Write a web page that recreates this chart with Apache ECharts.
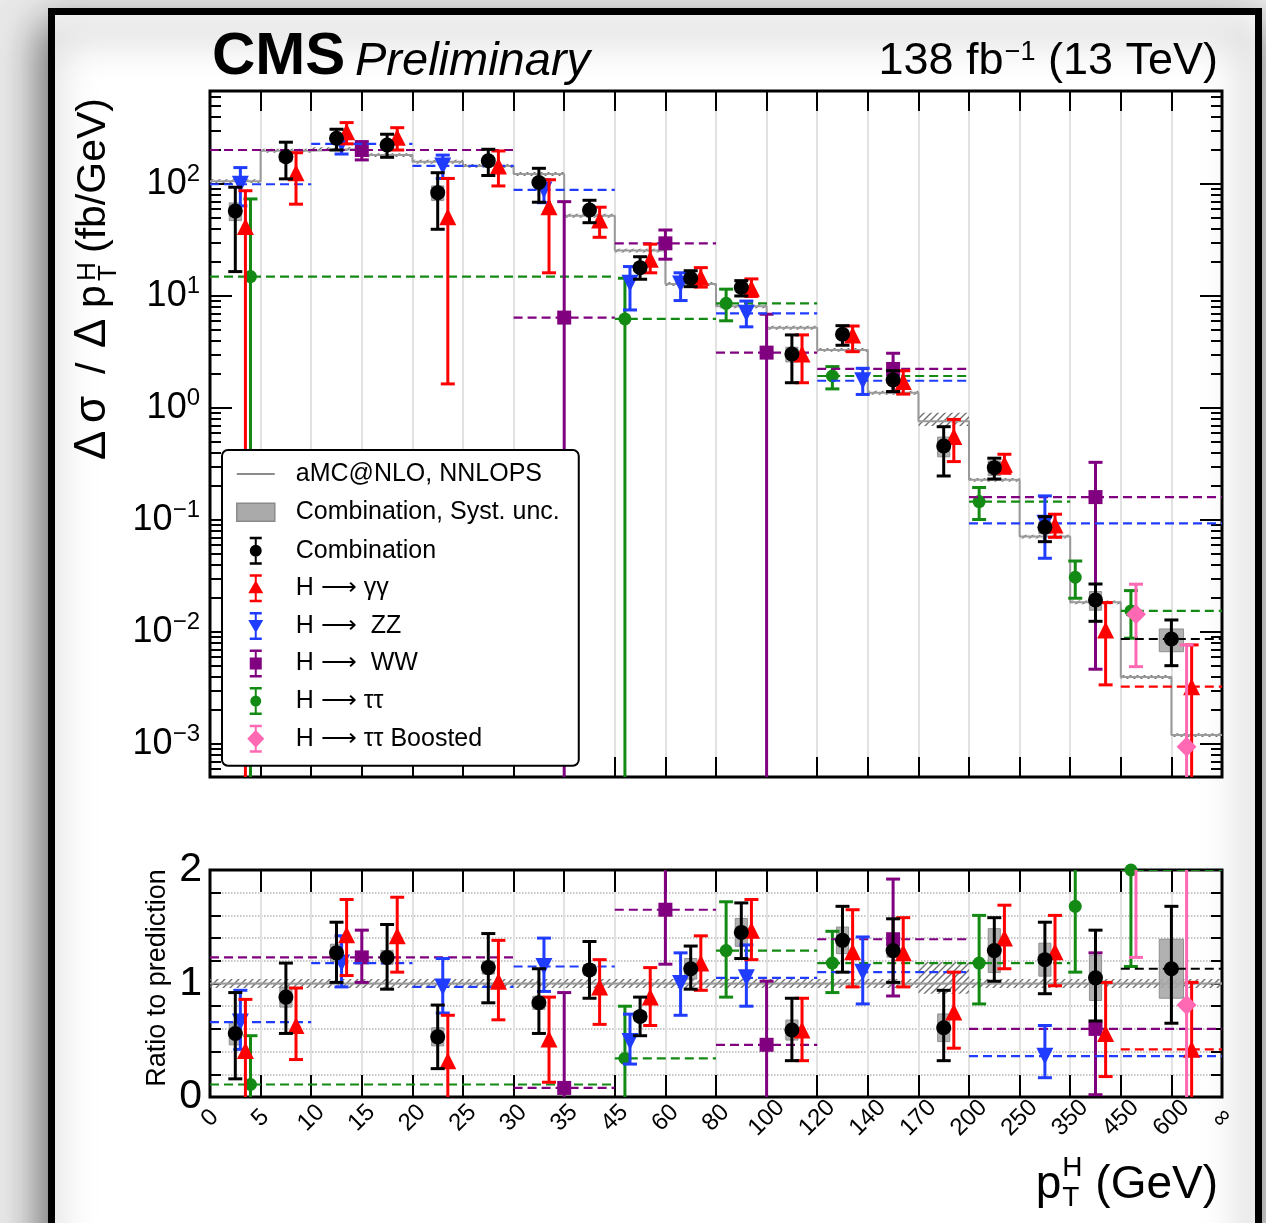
<!DOCTYPE html>
<html><head><meta charset="utf-8">
<script src="https://cdn.jsdelivr.net/npm/echarts@6/dist/echarts.min.js"></script>
<style>html,body{margin:0;padding:0;background:#e9e9e9;}#c{width:1266px;height:1223px;}</style>
</head><body><div id="c"></div>
<script>
// ---------------- DATA ----------------
const edgeLabels = ['0','5','10','15','20','25','30','35','45','60','80','100','120','140','170','200','250','350','450','600','∞'];
const topMajorTicks = [-3,-2,-1,0,1,2];           // log10 of 1e-3 ... 1e2
const ratioLabelTicks = [0,1,2];

// aMC@NLO NNLOPS prediction (fb/GeV) per bin
const predValues = [106,198,205,181,158,145,123,52,25.4,12.8,8.1,5.2,3.3,1.37,0.76,0.228,0.071,0.0184,0.00396,0.0012];
const predUncUp   = [0.04,0.04,0.04,0.04,0.04,0.04,0.04,0.04,0.04,0.04,0.04,0.04,0.04,0.04,0.19,0.04,0.04,0.04,0.04,0.04];
const predUncDown = [0.04,0.04,0.04,0.04,0.04,0.04,0.04,0.04,0.04,0.04,0.04,0.04,0.04,0.04,0.09,0.04,0.04,0.04,0.04,0.04];

// Combination
const combBins = [[0,1],[1,2],[2,3],[3,4],[4,5],[5,6],[6,7],[7,8],[8,9],[9,10],[10,11],[11,12],[12,13],[13,14],[14,15],[15,16],[16,17],[17,18],[18,20]];
const combVal  = [57.4,175,256,223,83.6,161,103,58.6,17.9,14.4,11.9,3.03,4.55,1.78,0.458,0.293,0.0861,0.0193,0.00865];
const combUp   = [93.5,236,308,278,126,204,138,71.5,22.4,16.8,13.7,4.49,5.43,2.15,0.68,0.356,0.107,0.0268,0.0128];
const combDown = [16.5,111,201,173,39.4,119,68.7,45.1,14.1,12.1,10.0,1.68,3.63,1.40,0.247,0.232,0.064,0.01245,0.0050];
const combSyst = [0.18,0.10,0.06,0.05,0.15,0.05,0.07,0.04,0.06,0.08,0.085,0.15,0.085,0.045,0.2,0.15,0.12,0.19,0.23];
const combRatio     = [0.56,0.88,1.27,1.23,0.53,1.14,0.83,1.12,0.71,1.13,1.45,0.59,1.38,1.29,0.61,1.29,1.21,1.05,1.13];
const combRatioUp   = [0.92,1.18,1.54,1.52,0.81,1.44,1.13,1.37,0.88,1.33,1.71,0.87,1.68,1.57,0.94,1.58,1.54,1.47,1.68];
const combRatioDown = [0.16,0.56,1.01,0.95,0.25,0.83,0.56,0.87,0.54,0.95,1.22,0.32,1.10,1.01,0.32,1.02,0.91,0.67,0.65];

// H -> gamma gamma
const ggBins = combBins;
const ggVal  = [41.6,126,293,261,51,145,62.6,47.7,21.3,14.7,11.7,3.03,4.49,1.72,0.555,0.314,0.0902,0.0104,0.00325];
const ggUp   = [87,190,353,318,112,197,109,62,29,17.9,14.2,4.49,5.39,2.15,0.79,0.386,0.1125,0.0183,0.00766];
const ggDown = [0.0001,66,228,201,1.64,96,16.1,33.4,16.1,12.0,9.9,1.68,3.18,1.33,0.332,0.261,0.070,0.00337,0.0001];
const ggRatio     = [0.41,0.63,1.43,1.42,0.32,1.02,0.51,0.97,0.88,1.18,1.47,0.59,1.28,1.27,0.75,1.40,1.28,0.56,0.42];
const ggRatioUp   = [0.86,0.96,1.74,1.76,0.72,1.38,0.88,1.21,1.14,1.42,1.74,0.87,1.65,1.58,1.10,1.69,1.60,1.01,1.01];
const ggRatioDown = [-0.5,0.33,1.07,1.10,-0.5,0.68,0.13,0.64,0.63,0.94,1.21,0.32,0.97,0.97,0.43,1.13,0.98,0.18,-0.5];

// H -> ZZ
const zzBins = [[0,2],[2,4],[4,6],[6,8],[8,9],[9,10],[10,12],[12,15],[15,20]];
const zzVal  = [99.4,228,145,88.4,13.0,12.8,7.0,1.75,0.0933];
const zzUp   = [140,261,181,109,18.3,16.1,9.0,2.26,0.164];
const zzDown = [63.7,185,112,68,7.5,9.1,5.3,1.32,0.0455];
const zzRatio     = [0.66,1.18,0.97,1.15,0.49,1.0,1.05,1.10,0.36];
const zzRatioUp   = [0.94,1.42,1.22,1.40,0.73,1.27,1.34,1.41,0.63];
const zzRatioDown = [0.42,0.97,0.74,0.93,0.29,0.72,0.80,0.82,0.17];

// H -> WW
const wwBins = [[0,6],[6,8],[8,10],[10,12],[12,15],[15,20]];
const wwVal  = [201,6.41,29.5,3.12,2.23,0.16];
const wwUp   = [239,69.5,38.8,6.87,3.08,0.327];
const wwDown = [164,0.0001,21.3,0.0001,1.40,0.00465];
const wwRatio     = [1.23,0.08,1.65,0.46,1.39,0.60];
const wwRatioUp   = [1.47,0.92,2.3,1.02,1.92,1.27];
const wwRatioDown = [1.01,-0.5,1.17,-0.5,0.89,0.02];

// H -> tau tau
const ttBins = [[0,8],[8,10],[10,12],[12,15],[15,17],[17,18],[18,20]];
const ttVal  = [14.9,6.24,8.6,1.93,0.146,0.0308,0.0154];
const ttUp   = [73.5,14.4,11.5,2.34,0.195,0.043,0.0234];
const ttDown = [0.0001,0.0001,6.0,1.48,0.101,0.020,0.0088];
const ttRatio     = [0.11,0.34,1.29,1.18,1.18,1.68,2.0];
const ttRatioUp   = [0.54,0.80,1.72,1.46,1.60,2.3,3.0];
const ttRatioDown = [-0.5,-0.5,0.88,0.92,0.82,1.10,1.15];

// H -> tau tau boosted
const bsBins = [[18,19],[19,20]];
const bsVal  = [0.0144,0.000946];
const bsUp   = [0.0267,0.00766];
const bsDown = [0.0049,0.0001];
const bsRatio     = [3.6,0.81];
const bsRatioUp   = [6.7,6.4];
const bsRatioDown = [1.23,-0.5];

// ---------------- STYLE / LAYOUT ----------------
const FF = '"Liberation Sans", Arial, Helvetica, sans-serif';
const TOP = {left:210, top:91, width:1012, height:686, ymin:-3.295, ymax:2.83};
const RAT = {left:210, top:870, width:1012, height:227};

const mctx = document.createElement('canvas').getContext('2d');
function tw(t, font){ mctx.font = font; return mctx.measureText(t).width; }

const minorTop = [];
for (let n = -4; n <= 2; n++) for (let k = 2; k <= 9; k++) {
  const v = n + Math.log10(k);
  if (v > TOP.ymin && v < TOP.ymax) minorTop.push(v);
}

// hatch pattern
const hc = document.createElement('canvas'); hc.width = 7; hc.height = 7;
(function(){ const g = hc.getContext('2d'); g.strokeStyle = '#707070'; g.lineWidth = 1.4;
  g.beginPath(); g.moveTo(-1,8); g.lineTo(8,-1); g.moveTo(-2,2); g.lineTo(2,-2); g.moveTo(5,9); g.lineTo(9,5); g.stroke(); })();
const hatchFill = {image: hc, repeat: 'repeat'};

const channels = [
  {name:'H ⟶ ττ',         color:'#138a13', off:0.1, symbol:'circle',   size:13, rot:0,   bins:ttBins, v:ttVal, u:ttUp, d:ttDown, r:ttRatio, ru:ttRatioUp, rd:ttRatioDown},
  {name:'H ⟶  WW',        color:'#800080', off:0.5, symbol:'rect',     size:14, rot:0,   bins:wwBins, v:wwVal, u:wwUp, d:wwDown, r:wwRatio, ru:wwRatioUp, rd:wwRatioDown},
  {name:'H ⟶  ZZ',        color:'#1f3cff', off:0.3, symbol:'triangle', size:17, rot:180, bins:zzBins, v:zzVal, u:zzUp, d:zzDown, r:zzRatio, ru:zzRatioUp, rd:zzRatioDown},
  {name:'H ⟶ γγ',         color:'#ff0000', off:0.7, symbol:'triangle', size:17, rot:0,   bins:ggBins, v:ggVal, u:ggUp, d:ggDown, r:ggRatio, ru:ggRatioUp, rd:ggRatioDown},
  {name:'H ⟶ ττ Boosted', color:'#ff69b4', off:0.3, symbol:'diamond',  size:20, rot:0,   bins:bsBins, v:bsVal, u:bsUp, d:bsDown, r:bsRatio, ru:bsRatioUp, rd:bsRatioDown},
  {name:'Combination',    color:'#000000', off:0.5, symbol:'circle',   size:15, rot:0,   bins:combBins, v:combVal, u:combUp, d:combDown, r:combRatio, ru:combRatioUp, rd:combRatioDown}
];

function errRenderer(color){
  return function(params, api){
    const x = api.value(0), y = api.value(1), yu = api.value(2), yd = api.value(3), lo = api.value(4), hi = api.value(5);
    const c = api.coord([x, y]), u = api.coord([x, yu]), d = api.coord([x, yd]);
    const ch = [];
    if (hi - lo > 1.01) {
      const a = api.coord([lo, y]), b = api.coord([hi, y]);
      ch.push({type:'line', shape:{x1:a[0], y1:a[1], x2:b[0], y2:b[1]}, style:{stroke:color, lineWidth:2.2, lineDash:[9,5]}});
    }
    ch.push({type:'line', shape:{x1:c[0], y1:u[1], x2:c[0], y2:d[1]}, style:{stroke:color, lineWidth:3}});
    ch.push({type:'line', shape:{x1:c[0]-7, y1:u[1], x2:c[0]+7, y2:u[1]}, style:{stroke:color, lineWidth:3}});
    ch.push({type:'line', shape:{x1:c[0]-7, y1:d[1], x2:c[0]+7, y2:d[1]}, style:{stroke:color, lineWidth:3}});
    return {type:'group', children:ch};
  };
}
function rectRenderer(styleFn){
  return function(params, api){
    const p1 = api.coord([api.value(0), api.value(2)]);
    const p2 = api.coord([api.value(1), api.value(3)]);
    return {type:'rect', shape:{x:p1[0], y:p1[1], width:p2[0]-p1[0], height:p2[1]-p1[1]}, style:styleFn()};
  };
}

const series = [];
// prediction: hatch bands + step line
series.push({name:'aMC@NLO, NNLOPS', type:'custom', xAxisIndex:0, yAxisIndex:0, clip:true, z:2,
  data: predValues.map((v,i)=>[i, i+1, Math.log10(v*(1+predUncUp[i])), Math.log10(v*(1-predUncDown[i]))]),
  renderItem: rectRenderer(()=>({fill:hatchFill, stroke:null}))});
series.push({name:'aMC@NLO, NNLOPS', type:'line', xAxisIndex:0, yAxisIndex:0, step:'end', symbol:'none', z:3,
  lineStyle:{color:'#9a9a9a', width:2}, itemStyle:{color:'#9a9a9a'}, silent:true,
  data: predValues.map((v,i)=>[i, Math.log10(v)]).concat([[20, Math.log10(predValues[predValues.length-1])]])});
series.push({name:'aMC@NLO, NNLOPS', type:'custom', xAxisIndex:2, yAxisIndex:4, clip:true, z:2,
  data: predValues.map((v,i)=>[i, i+1, 1+predUncUp[i], 1-predUncDown[i]]),
  renderItem: rectRenderer(()=>({fill:hatchFill, stroke:null}))});
series.push({name:'aMC@NLO, NNLOPS', type:'line', xAxisIndex:2, yAxisIndex:4, symbol:'none', z:3, silent:true,
  lineStyle:{color:'#9a9a9a', width:2}, data:[[0,1],[20,1]]});

// combination syst boxes
series.push({name:'Combination, Syst. unc.', type:'custom', xAxisIndex:0, yAxisIndex:0, clip:true, z:4,
  data: combBins.map((b,i)=>{ const w=b[1]-b[0], xc=b[0]+0.5*w; return [xc-0.12*w, xc+0.12*w, Math.log10(combVal[i]*(1+combSyst[i])), Math.log10(combVal[i]*(1-combSyst[i]))]; }),
  renderItem: rectRenderer(()=>({fill:'#a8a8a8', stroke:'#8a8a8a', lineWidth:1, opacity:0.9}))});
series.push({name:'Combination, Syst. unc.', type:'custom', xAxisIndex:2, yAxisIndex:4, clip:true, z:4,
  data: combBins.map((b,i)=>{ const w=b[1]-b[0], xc=b[0]+0.5*w; return [xc-0.12*w, xc+0.12*w, combRatio[i]*(1+combSyst[i]), combRatio[i]*(1-combSyst[i])]; }),
  renderItem: rectRenderer(()=>({fill:'#a8a8a8', stroke:'#8a8a8a', lineWidth:1, opacity:0.9}))});

channels.forEach((c, ci) => {
  const topErr = [], topPts = [], rErr = [], rPts = [];
  c.bins.forEach((b, i) => {
    const x = b[0] + c.off*(b[1]-b[0]);
    topPts.push([x, Math.log10(c.v[i])]);
    topErr.push([x, Math.log10(c.v[i]), Math.log10(c.u[i]), Math.log10(c.d[i]), b[0], b[1]]);
    rPts.push([x, c.r[i]]);
    rErr.push([x, c.r[i], c.ru[i], c.rd[i], b[0], b[1]]);
  });
  const zb = 5 + ci*0.1;
  series.push({name:c.name, type:'custom', xAxisIndex:0, yAxisIndex:0, clip:true, z:zb, data:topErr, renderItem:errRenderer(c.color)});
  series.push({name:c.name, type:'scatter', xAxisIndex:0, yAxisIndex:0, clip:true, z:zb+0.05, data:topPts,
    symbol:c.symbol, symbolSize:c.size, symbolRotate:c.rot, itemStyle:{color:c.color, opacity:1}});
  series.push({name:c.name, type:'custom', xAxisIndex:2, yAxisIndex:4, clip:true, z:zb, data:rErr, renderItem:errRenderer(c.color)});
  series.push({name:c.name, type:'scatter', xAxisIndex:2, yAxisIndex:4, clip:true, z:zb+0.05, data:rPts,
    symbol:c.symbol, symbolSize:c.size, symbolRotate:c.rot, itemStyle:{color:c.color, opacity:1}});
});

// legend icons (40x30 frame)
const FR = 'M0 0 M40 30 ';
const ERR = 'M19 1 L21 1 L21 29 L19 29 Z M14 1 L26 1 L26 3.5 L14 3.5 Z M14 26.5 L26 26.5 L26 29 L14 29 Z ';
const IC = {
  line: FR + 'M1 14 L39 14 L39 16 L1 16 Z',
  rect: FR + 'M1 6 L39 6 L39 24 L1 24 Z',
  circ: FR + ERR + 'M26 15 A6 6 0 1 1 14 15 A6 6 0 1 1 26 15 Z',
  tri:  FR + ERR + 'M20 7 L27.5 20 L12.5 20 Z',
  trid: FR + ERR + 'M12.5 9 L27.5 9 L20 22 Z',
  sq:   FR + ERR + 'M14 9 L26 9 L26 21 L14 21 Z',
  dot:  FR + ERR + 'M25.5 15 A5.5 5.5 0 1 1 14.5 15 A5.5 5.5 0 1 1 25.5 15 Z',
  dia:  FR + ERR + 'M20 6 L28.5 15 L20 24 L11.5 15 Z'
};
const legendData = [
  {name:'aMC@NLO, NNLOPS', icon:'path://'+IC.line, itemStyle:{color:'#8c8c8c', borderWidth:0}},
  {name:'Combination, Syst. unc.', icon:'path://'+IC.rect, itemStyle:{color:'#aaaaaa', borderColor:'#8a8a8a', borderWidth:1.5}},
  {name:'Combination', icon:'path://'+IC.circ, itemStyle:{color:'#000', borderWidth:0}},
  {name:'H ⟶ γγ', icon:'path://'+IC.tri, itemStyle:{color:'#ff0000', borderWidth:0}},
  {name:'H ⟶  ZZ', icon:'path://'+IC.trid, itemStyle:{color:'#1f3cff', borderWidth:0}},
  {name:'H ⟶  WW', icon:'path://'+IC.sq, itemStyle:{color:'#800080', borderWidth:0}},
  {name:'H ⟶ ττ', icon:'path://'+IC.dot, itemStyle:{color:'#138a13', borderWidth:0}},
  {name:'H ⟶ ττ Boosted', icon:'path://'+IC.dia, itemStyle:{color:'#ff69b4', borderWidth:0}}
];

// ---------------- AXES ----------------
const tickStyle = {color:'#000', width:2};
function xAx(grid, pos, len, labels){
  return {gridIndex:grid, type:'value', min:0, max:20, interval:1, position:pos,
    axisLine:{show:false, onZero:false},
    axisTick:{show:true, inside:true, length:len, lineStyle:tickStyle},
    splitLine:{show: pos==='bottom', lineStyle:{color:'#e2e2e2', width:2}},
    axisLabel: labels ? {show:true, rotate:45, align:'center', verticalAlign:'middle', margin:21,
      fontSize:24, fontFamily:FF, color:'#000', formatter:(v)=>edgeLabels[Math.round(v)]} : {show:false}};
}
function yTopAx(pos, ticks, len, labels){
  return {gridIndex:0, type:'value', min:TOP.ymin, max:TOP.ymax, position:pos,
    axisLine:{show:false, onZero:false}, splitLine:{show:false},
    axisTick:{show:true, inside:true, length:len, customValues:ticks, lineStyle:tickStyle},
    axisLabel: labels ? {show:true, customValues:ticks, margin:10, color:'#000',
      formatter:(v)=>{ const e=Math.round(v); return '{b|10}{s|' + (e<0 ? '−'+(-e) : e) + '}'; },
      rich:{ b:{fontSize:36, lineHeight:36, fontFamily:FF, color:'#000'},
             s:{fontSize:24, lineHeight:24, fontFamily:FF, color:'#000', padding:[0,0,20,0]} } } : {show:false}};
}
function yRatAx(pos, labels){
  return {gridIndex:1, type:'value', min:0, max:2, interval:0.2, position:pos,
    axisLine:{show:false, onZero:false},
    splitLine:{show: pos==='left', lineStyle:{color:'#b5b5b5', type:'dotted', width:1.5}},
    axisTick:{show:true, inside:true, length:11, lineStyle:tickStyle},
    axisLabel: labels ? {show:true, customValues:ratioLabelTicks, margin:8, fontSize:41, fontFamily:FF, color:'#000'} : {show:false}};
}

// ---------------- TITLES (graphic) ----------------
const g = [];
g.push({type:'rect', z:-1, shape:{x:51.5, y:11.5, width:1207, height:1400},
  style:{fill:'#ffffff', stroke:'#000', lineWidth:7, shadowBlur:40, shadowColor:'rgba(0,0,0,0.55)', shadowOffsetX:-6, shadowOffsetY:18}});
g.push({type:'text', z:50, x:212, y:57, style:{text:'CMS', font:'bold 60px '+FF, fill:'#000', align:'left', verticalAlign:'middle'}});
g.push({type:'text', z:50, x:355, y:61.5, style:{text:'Preliminary', font:'italic 47px '+FF, fill:'#000', align:'left', verticalAlign:'middle'}});
(function(){
  const f1 = '45px '+FF, f2 = '27px '+FF;
  const s3 = ' (13 TeV)', s2 = '−1', s1 = '138 fb';
  const w3 = tw(s3, f1), w2 = tw(s2, f2);
  g.push({type:'text', z:50, x:1218, y:62, style:{text:s3, font:f1, fill:'#000', align:'right', verticalAlign:'middle'}});
  g.push({type:'text', z:50, x:1218-w3, y:53, style:{text:s2, font:f2, fill:'#000', align:'right', verticalAlign:'middle'}});
  g.push({type:'text', z:50, x:1218-w3-w2-1, y:62, style:{text:s1, font:f1, fill:'#000', align:'right', verticalAlign:'middle'}});
})();
// top y title (rotated, reads bottom to top); pieces placed along the text direction
(function(){
  const F = 41, FG = 44, F2 = 26;
  const f1 = F+'px '+FF, fg = FG+'px '+FF, f2 = F2+'px '+FF;
  const ym = -0.35*F;
  const T = (t, x, y, font) => ({type:'text', x:x, y:y, style:{text:t, font:font, fill:'#000', align:'left', verticalAlign:'middle'}});
  const kids = [
    T('Δ', 0, -0.35*FG, fg),
    T('σ', 37, -0.35*FG, fg),
    T('/', 86, ym, f1),
    T('Δ', 112, -0.35*FG, fg),
    T('p', 152, ym, f1),
    T('H', 179, -0.716*F+0.716*F2-0.35*F2, f2),
    T('T', 179, 0.25*F-0.35*F2, f2),
    T('(fb/GeV)', 207, ym, f1)
  ];
  g.push({type:'group', z:50, x:108, y:460, rotation:Math.PI/2, children:kids});
})();
// ratio y title
g.push({type:'group', z:50, x:158, y:978, rotation:Math.PI/2, children:[
  {type:'text', x:0, y:0, style:{text:'Ratio to prediction', font:'27px '+FF, fill:'#000', align:'center', verticalAlign:'middle'}}]});
// x title
(function(){
  const F = 46, F2 = 28, f1 = F+'px '+FF, f2 = F2+'px '+FF, B = 1201;
  const wg = tw(' (GeV)', f1), wH = tw('H', f2), wT = tw('T', f2);
  const xs = Math.max(wH, wT);
  const xr = 1218 - wg;
  g.push({type:'text', z:50, x:1218, y:B-0.35*F, style:{text:' (GeV)', font:f1, fill:'#000', align:'right', verticalAlign:'middle'}});
  g.push({type:'text', z:50, x:xr-xs, y:1178-0.35*F2, style:{text:'H', font:f2, fill:'#000', align:'left', verticalAlign:'middle'}});
  g.push({type:'text', z:50, x:xr-xs, y:1208-0.35*F2, style:{text:'T', font:f2, fill:'#000', align:'left', verticalAlign:'middle'}});
  g.push({type:'text', z:50, x:xr-xs-1, y:B-0.35*F, style:{text:'p', font:f1, fill:'#000', align:'right', verticalAlign:'middle'}});
})();

const option = {
  animation:false,
  backgroundColor:'#e9e9e9',
  textStyle:{fontFamily:FF},
  grid:[
    {left:TOP.left, top:TOP.top, width:TOP.width, height:TOP.height, show:true, borderColor:'#000', borderWidth:3, backgroundColor:'transparent', containLabel:false, outerBoundsMode:'none', z:1},
    {left:RAT.left, top:RAT.top, width:RAT.width, height:RAT.height, show:true, borderColor:'#000', borderWidth:3, backgroundColor:'transparent', containLabel:false, outerBoundsMode:'none', z:1}
  ],
  xAxis:[ xAx(0,'bottom',20,false), xAx(0,'top',20,false), xAx(1,'bottom',22,true), xAx(1,'top',22,false) ],
  yAxis:[ yTopAx('left', topMajorTicks, 22, true), yTopAx('left', minorTop, 11, false),
          yTopAx('right', topMajorTicks, 22, false), yTopAx('right', minorTop, 11, false),
          yRatAx('left', true), yRatAx('right', false) ],
  legend:{show:true, orient:'vertical', left:222, top:450, z:30, itemWidth:40, itemHeight:30, itemGap:7.6,
    padding:[9,19,12,13], backgroundColor:'#fff', borderColor:'#000', borderWidth:2, borderRadius:6,
    selectedMode:false, symbolKeepAspect:true,
    textStyle:{fontSize:25, fontFamily:FF, color:'#000', padding:[0,0,0,15]}, data:legendData},
  graphic:{elements:g},
  series:series
};
const chart = echarts.init(document.getElementById('c'), null, {renderer:'canvas', width:1266, height:1223});
chart.setOption(option);
</script>
</body></html>
